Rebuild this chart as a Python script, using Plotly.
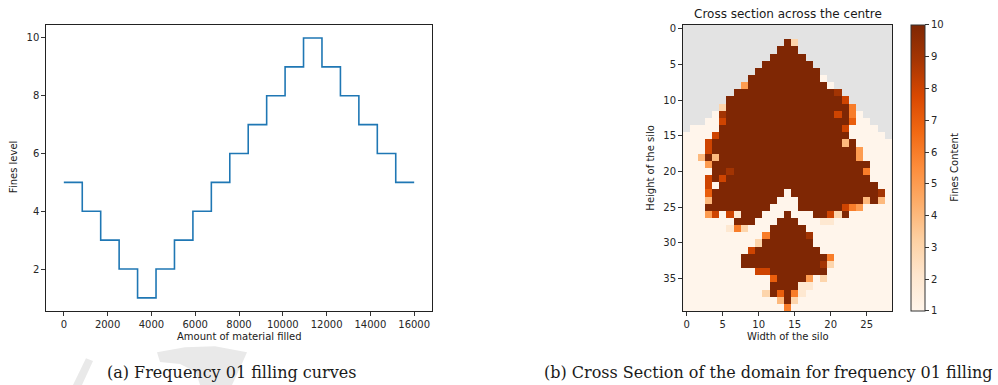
import numpy as np
import plotly.graph_objects as go

W, H = 998, 385

# ---- data: filling curve (step) ----
amount_filled = [0, 842, 1684, 2526, 3368, 4211, 5053, 5895, 6737, 7579, 8421,
                 9263, 10105, 10947, 11789, 12632, 13474, 14316, 15158, 16000]
fines_level = [5, 4, 3, 2, 1, 2, 3, 4, 5, 6, 7, 8, 9, 10, 9, 8, 7, 6, 5, 5]

# ---- data: cross section (rows 0..39, cols 0..28); '.' = empty, X = 10 ----
cross_rows = [
    ".............................",
    ".............................",
    "..............X3.............",
    ".............XXX.............",
    "............XXXXX............",
    "...........XXXXXXX...........",
    "..........XXXXXXXXX..........",
    ".........XXXXXXXXXX1.........",
    "........5XXXXXXXXXXX1........",
    ".......XXXXXXXXXXXXXX9.......",
    "......XXXXXXXXXXXXXXXX8......",
    ".....3XXXXXXXXXXXXXXXXX6.....",
    "....19XXXXXXXXXXXXXXX8X61....",
    "...118XXXXXXXXXXXXXXXXX711...",
    ".1111XXXXXXXXXXXXXXXXX81111..",
    "11118XXXXXXXXXXXXXXXXXX11111.",
    "1118XXXXXXXXXXXXXXXXXX4X11111",
    "1118XXXXXXXXXXXXXXXXXXXX51111",
    "114X4XXXXXXXXXXXXXXXXXXX51111",
    "1115XXXXXXXXXXXXXXXXXXXXXX111",
    "1111XX9XXXXXXXXXXXXXXXXXX6111",
    "1118X8XXXXXXXXXXXXXXXXXXXX111",
    "11181XXXXXXXXXXXXXXXXXXXXXX11",
    "1117XXXXXXXXXX1XXXXXXXXXXXX91",
    "1114XXXXXXXXX111XXXXXXXXX4X41",
    "111XXXXXXXXX1111XXXXXX8651111",
    "11158182XXX111X111XX83X111111",
    "1111111XXX111XXX1112211111111",
    "111111263111XXXXX111111111111",
    "111111111116XXXXX911111111111",
    "11111111113XXXXXXX11111111111",
    "1111111118XXXXXXXXX1111111111",
    "11111111XXXXXXXXXXXX611111111",
    "11111111XXXXXXXXXXX9311111111",
    "111111111188XXXXXXXX111111111",
    "1111111111117XXXX513111111111",
    "111111111111XXXX2211111111111",
    "111111111113X7X62111111111111",
    "11111111111114X31111111111111",
    "11111111111111611111111111111",
]
x_ticks_left = [0, 2000, 4000, 6000, 8000, 10000, 12000, 14000, 16000]
x_ticklabels_left = ["0", "2000", "4000", "6000", "8000", "10000", "12000", "14000", "16000"]
y_ticks_left = [2, 4, 6, 8, 10]
x_ticks_right = [0, 5, 10, 15, 20, 25]
y_ticks_right = [0, 5, 10, 15, 20, 25, 30, 35]
cbar_ticks = [1, 2, 3, 4, 5, 6, 7, 8, 9, 10]

for r in cross_rows:
    assert len(r) == 29, (r, len(r))


def decode(ch):
    if ch == ".":
        return None
    if ch == "X":
        return 10
    return int(ch)


z = [[decode(ch) for ch in row] for row in cross_rows]


def px(x):
    return x / W


def py(y):
    return 1 - y / H


TXT = "#262626"
FONT = "DejaVu Sans"

fig = go.Figure()

fig.add_trace(go.Scatter(
    x=amount_filled, y=fines_level, mode="lines",
    line=dict(color="#1f77b4", width=1.6, shape="hv"),
    xaxis="x", yaxis="y", showlegend=False,
))

fig.add_trace(go.Heatmap(
    z=z, colorscale="Oranges", zmin=1, zmax=10,
    xaxis="x2", yaxis="y2", hoverongaps=False,
    colorbar=dict(
        x=px(911), xanchor="left", xpad=0, ypad=0,
        y=py((23.1 + 310.5) / 2), yanchor="middle",
        len=(310.5 - 23.1) / H, lenmode="fraction",
        thickness=14, thicknessmode="pixels",
        outlinewidth=1, outlinecolor="#333333",
        tickvals=cbar_ticks, ticks="outside", ticklen=4, tickcolor="#333333",
        tickfont=dict(family=FONT, size=10, color=TXT),
    ),
))

axis_common = dict(
    showline=True, linecolor="#222222", linewidth=1, mirror=True,
    ticks="outside", ticklen=4, tickcolor="#333333",
    showgrid=False, zeroline=False,
    tickfont=dict(family=FONT, size=10, color=TXT),
)

top, bottom = 23.1, 310.5

fig.update_layout(
    width=W, height=H,
    margin=dict(l=0, r=0, t=0, b=0),
    paper_bgcolor="white",
    plot_bgcolor="white",
    xaxis=dict(domain=[px(46.3), px(431.7)], range=[-800, 16800],
               tickvals=x_ticks_left, ticktext=x_ticklabels_left, anchor="y", **axis_common),
    yaxis=dict(domain=[py(bottom), py(top)], range=[0.55, 10.45],
               tickvals=y_ticks_left, anchor="x", **axis_common),
    xaxis2=dict(domain=[px(683.1), px(891.9)], range=[-0.5, 28.5],
                tickvals=x_ticks_right, anchor="y2", **axis_common),
    yaxis2=dict(domain=[py(bottom), py(top)], range=[39.5, -0.5],
                tickvals=y_ticks_right, anchor="x2", **axis_common),
)

# grey background for empty cells of the heatmap
fig.add_shape(type="rect", xref="x2", yref="y2", x0=-0.5, x1=28.5, y0=-0.5, y1=39.5,
              fillcolor="#e3e3e3", line=dict(width=0), layer="below")


def path(points):
    s = "M " + " L ".join(f"{px(x):.5f},{py(y):.5f}" for x, y in points) + " Z"
    return s


# faint watermark swoosh
fig.add_shape(type="path", xref="paper", yref="paper",
              path=path([(73, 385), (86, 358), (93, 361), (82, 385)]),
              fillcolor="#e9e9e9", line=dict(width=0), layer="below")
fig.add_shape(type="path", xref="paper", yref="paper",
              path=path([(157, 352), (185, 347), (215, 346), (247, 352), (240, 368),
                         (232, 385), (200, 385), (196, 372), (180, 364), (160, 362)]),
              fillcolor="#e9e9e9", line=dict(width=0), layer="below")

annos = [
    dict(text="Amount of material filled", x=px(239), y=py(336.7), size=10, angle=0, fam=FONT),
    dict(text="Fines level", x=px(13.5), y=py(166.5), size=10, angle=-90, fam=FONT),
    dict(text="Cross section across the centre", x=px(787.5), y=py(11.7), size=12, angle=0, fam=FONT),
    dict(text="Width of the silo", x=px(787.5), y=py(336.7), size=10, angle=0, fam=FONT),
    dict(text="Height of the silo", x=px(651), y=py(166.5), size=10, angle=-90, fam=FONT),
    dict(text="Fines Content", x=px(955), y=py(166.5), size=10, angle=-90, fam=FONT),
    dict(text="(a) Frequency 01 filling curves", x=px(231), y=py(372.7), size=16, angle=0,
         fam="DejaVu Serif"),
    dict(text="(b) Cross Section of the domain for frequency 01 filling", x=px(768.5),
         y=py(372.7), size=16, angle=0, fam="DejaVu Serif"),
]
for a in annos:
    fig.add_annotation(text=a["text"], x=a["x"], y=a["y"], xref="paper", yref="paper",
                       xanchor="center", yanchor="middle", showarrow=False,
                       textangle=a["angle"],
                       font=dict(family=a["fam"], size=a["size"], color="#1a1a1a"))

fig.write_html("out.html")
